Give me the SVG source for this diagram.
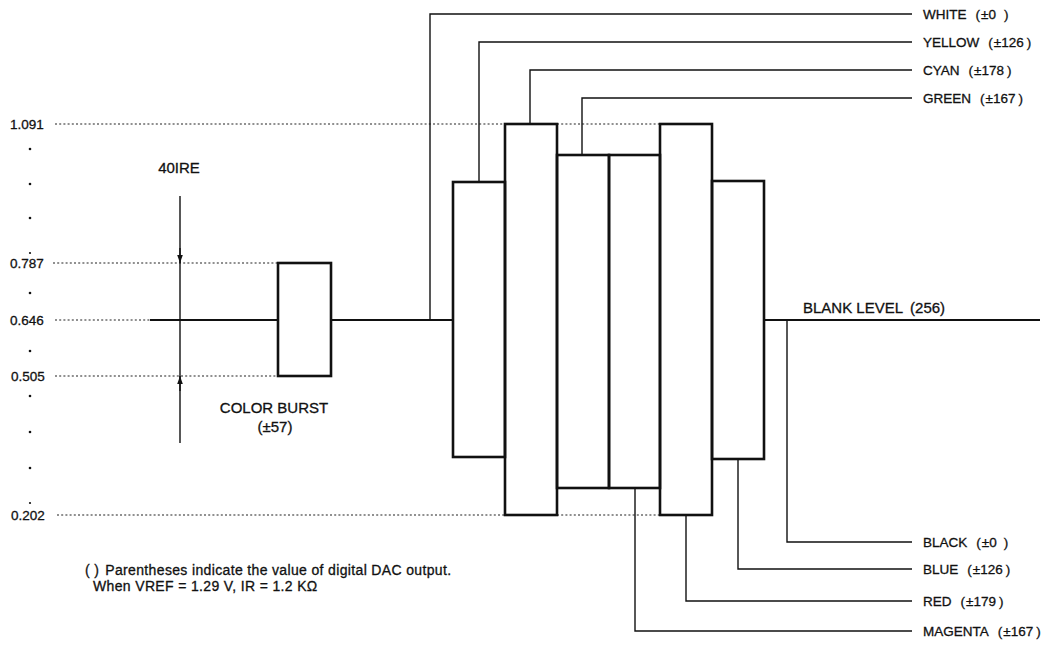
<svg xmlns="http://www.w3.org/2000/svg" width="1064" height="645" viewBox="0 0 1064 645">
<style>
text{font-family:"Liberation Sans",Arial,sans-serif;fill:#111;stroke:#111;stroke-width:0.3}
.ax{font-size:13.5px}
.lb{font-size:13.5px}
.big{font-size:15px}
.note{font-size:14px;letter-spacing:0.35px}
.dot{stroke:#222;stroke-width:1.2;stroke-dasharray:2 2.2;fill:none}
.box{fill:none;stroke:#111;stroke-width:2.6}
.base{stroke:#111;stroke-width:2;fill:none}
.con{stroke:#111;stroke-width:1.4;fill:none}
.tick{fill:#111}
</style>
<defs>
<marker id="ah" viewBox="0 0 8 8" refX="8" refY="4" markerWidth="8" markerHeight="8" markerUnits="userSpaceOnUse" orient="auto">
<path d="M0,1.2 L8,4 L0,6.8 Z" fill="#111"/>
</marker>
</defs>
<rect width="1064" height="645" fill="#fff"/>

<g id="axis">
<text class="ax" x="10" y="129">1.091</text>
<text class="ax" x="10" y="268">0.787</text>
<text class="ax" x="10" y="325">0.646</text>
<text class="ax" x="11" y="381">0.505</text>
<text class="ax" x="11" y="520">0.202</text>
<g class="tick">
<circle cx="30" cy="149" r="1.3"/><circle cx="30" cy="184" r="1.3"/><circle cx="30" cy="218" r="1.3"/><circle cx="30" cy="253" r="1.1"/>
<circle cx="30" cy="293" r="1.3"/><circle cx="30" cy="351" r="1.3"/><circle cx="30" cy="396" r="1.3"/><circle cx="30" cy="432" r="1.3"/><circle cx="30" cy="468" r="1.3"/><circle cx="30" cy="503" r="1.1"/>
</g>
<path class="dot" d="M55,124 H505 M557,124 H660"/>
<path class="dot" d="M53,263 H278"/>
<path class="dot" d="M55,320 H150"/>
<path class="dot" d="M55,376 H278"/>
<path class="dot" d="M57,515 H505 M557,515 H660"/>
</g>

<g id="baseline">
<path class="base" d="M150,320 H278 M331,320 H453 M764,320 H1040"/>
<text class="big" x="803" y="313">BLANK LEVEL<tspan dx="7">(256)</tspan></text>
</g>

<g id="ire">
<line class="con" x1="180" y1="196" x2="180" y2="443" stroke-width="1.2"/>
<line class="con" x1="180" y1="248" x2="180" y2="263" marker-end="url(#ah)" stroke-width="1.2"/>
<line class="con" x1="180" y1="391" x2="180" y2="376" marker-end="url(#ah)" stroke-width="1.2"/>
<text class="big" x="179" y="173" text-anchor="middle">40IRE</text>
</g>

<g id="burst">
<rect class="box" x="278" y="263" width="53" height="113"/>
<text class="big" x="274" y="413" text-anchor="middle">COLOR BURST</text>
<text class="big" x="275" y="432" text-anchor="middle">(±57)</text>
</g>

<g id="bar-yellow"><rect class="box" x="453" y="182" width="52" height="275"/></g>
<g id="bar-cyan"><rect class="box" x="505" y="124" width="52" height="391"/></g>
<g id="bar-green"><rect class="box" x="557" y="155" width="52" height="333"/></g>
<g id="bar-magenta"><rect class="box" x="609" y="155" width="51" height="333"/></g>
<g id="bar-red"><rect class="box" x="660" y="124" width="52" height="391"/></g>
<g id="bar-blue"><rect class="box" x="712" y="181" width="52" height="278"/></g>

<g id="connectors">
<path class="con" d="M430,320 V14 H912"/>
<path class="con" d="M479,182 V42 H912"/>
<path class="con" d="M530,124 V70 H912"/>
<path class="con" d="M582,155 V98 H912"/>
<path class="con" d="M787,320 V542 H912"/>
<path class="con" d="M738,459 V569 H912"/>
<path class="con" d="M686,515 V601 H912"/>
<path class="con" d="M635,488 V631 H912"/>
</g>

<g id="labels">
<text class="lb" x="923" y="19">WHITE<tspan dx="9">(</tspan><tspan dx="1">±0</tspan><tspan dx="8">)</tspan></text>
<text class="lb" x="923" y="47">YELLOW<tspan dx="9">(</tspan><tspan dx="1">±126</tspan><tspan dx="3">)</tspan></text>
<text class="lb" x="923" y="75">CYAN<tspan dx="9">(</tspan><tspan dx="1">±178</tspan><tspan dx="3">)</tspan></text>
<text class="lb" x="923" y="103">GREEN<tspan dx="9">(</tspan><tspan dx="1">±167</tspan><tspan dx="3">)</tspan></text>
<text class="lb" x="923" y="547">BLACK<tspan dx="9">(</tspan><tspan dx="1">±0</tspan><tspan dx="7">)</tspan></text>
<text class="lb" x="923" y="574">BLUE<tspan dx="9">(</tspan><tspan dx="1">±126</tspan><tspan dx="3">)</tspan></text>
<text class="lb" x="923" y="606">RED<tspan dx="9">(</tspan><tspan dx="1">±179</tspan><tspan dx="3">)</tspan></text>
<text class="lb" x="923" y="636">MAGENTA<tspan dx="9">(</tspan><tspan dx="1">±167</tspan><tspan dx="3">)</tspan></text>
</g>

<g id="note">
<text class="note" x="85" y="575">( )<tspan dx="6">Parentheses indicate the value of digital DAC output.</tspan></text>
<text class="note" x="93" y="591">When VREF = 1.29 V, IR = 1.2 KΩ</text>
</g>
</svg>
